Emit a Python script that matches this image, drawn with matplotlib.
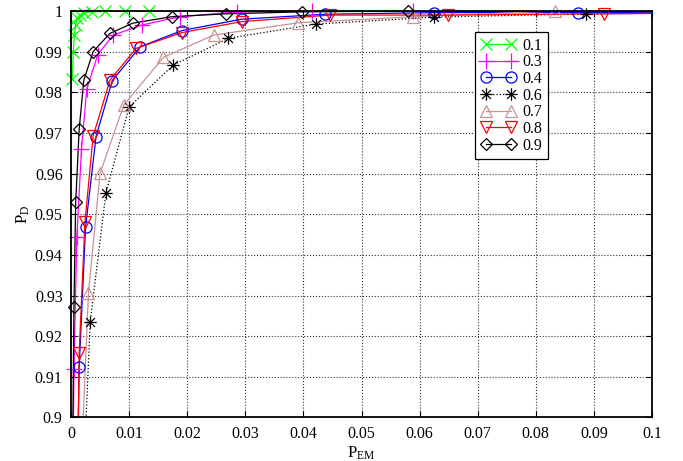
"""ROC-style curves P_D vs P_EM for several parameter values."""

import matplotlib

matplotlib.use("Agg")
import matplotlib.pyplot as plt
import numpy as np
from matplotlib.lines import Line2D
from matplotlib.path import Path

plt.rcParams["font.family"] = ["Liberation Serif", "DejaVu Serif"]
plt.rcParams["mathtext.fontset"] = "custom"
plt.rcParams["mathtext.rm"] = "Liberation Serif"
plt.rcParams["mathtext.it"] = "Liberation Serif:italic"

# values (points outside the axes only extend the lines)
x_01 = [0.0002, 0.0004, 0.00057, 0.0008, 0.0011, 0.0015, 0.0023, 0.0036, 0.0059, 0.0093, 0.0134, 0.12]
y_01 = [0.9833, 0.9900, 0.9941, 0.9966, 0.9982, 0.9990, 0.9996, 0.9998, 0.9999, 1.0, 1.0, 1.0]

x_03 = [0.0003, 0.0005, 0.0010, 0.0018, 0.0027, 0.0046, 0.0073, 0.0123, 0.0188, 0.0285, 0.0415, 0.0589, 0.12]
y_03 = [0.88, 0.9119, 0.9445, 0.9660, 0.9807, 0.9893, 0.9941, 0.9966, 0.9986, 0.9998, 1.0, 1.0, 1.0]

x_04 = [0.0010, 0.0014, 0.0025, 0.0043, 0.0071, 0.0119, 0.0191, 0.0294, 0.0437, 0.0625, 0.0873, 0.12]
y_04 = [0.88, 0.9123, 0.9468, 0.9691, 0.9829, 0.9912, 0.9952, 0.9980, 0.9992, 0.9996, 0.9996, 0.9998]

x_06 = [0.0020, 0.0033, 0.0060, 0.0100, 0.0176, 0.0271, 0.0422, 0.0625, 0.0886, 0.12]
y_06 = [0.88, 0.9236, 0.9552, 0.9764, 0.9867, 0.9933, 0.9968, 0.9985, 0.9993, 0.9996]

x_07 = [0.0015, 0.0030, 0.0050, 0.0091, 0.0159, 0.0246, 0.0391, 0.0589, 0.0833, 0.12]
y_07 = [0.88, 0.9306, 0.9601, 0.9769, 0.9886, 0.9941, 0.9971, 0.9986, 1.0, 0.9997]

x_08 = [0.0011, 0.0014, 0.0024, 0.0038, 0.0067, 0.0112, 0.0191, 0.0294, 0.0446, 0.0649, 0.0917, 0.12]
y_08 = [0.88, 0.9158, 0.9482, 0.9692, 0.9830, 0.9908, 0.9947, 0.9974, 0.9990, 0.9990, 0.9993, 0.9997]

x_09 = [0.0002, 0.0005, 0.0008, 0.0014, 0.0022, 0.0038, 0.0067, 0.0106, 0.0173, 0.0266, 0.0398, 0.0580, 0.12]
y_09 = [0.88, 0.9271, 0.9529, 0.9709, 0.9830, 0.9900, 0.9945, 0.9970, 0.9986, 0.9993, 0.9998, 1.0, 1.0]

labels = ["0.1", "0.3", "0.4", "0.6", "0.7", "0.8", "0.9"]

# 8-point asterisk like MATLAB's '*'
d = 0.7071
ASTER = Path(
    [(-1, 0), (1, 0), (0, -1), (0, 1), (-d, -d), (d, d), (-d, d), (d, -d)],
    [Path.MOVETO, Path.LINETO] * 4,
)

STYLES = [
    dict(color="#00ff00", ls="-", marker="x", ms=8),
    dict(color="#ff00ff", ls="-", marker="+", ms=11),
    dict(color="#0000ff", ls="-", marker="o", ms=8),
    dict(color="k", ls=":", marker=ASTER, ms=9),
    dict(color="#c89494", ls="-", marker="^", ms=8.5),
    dict(color="#ff0000", ls="-", marker="v", ms=8.5),
    dict(color="k", ls="-", marker="D", ms=6.5),
]


def main() -> None:
    series = [(x_01, y_01), (x_03, y_03), (x_04, y_04), (x_06, y_06),
              (x_07, y_07), (x_08, y_08), (x_09, y_09)]

    fig = plt.figure(figsize=(6.83, 4.61), dpi=100)
    ax = fig.add_axes([0.104, 0.0944, 0.8506, 0.8817])

    handles = []
    for (xs, ys), st, lab in zip(series, STYLES, labels):
        xs = np.asarray(xs)
        ys = np.asarray(ys)
        ax.plot(xs, ys, color=st["color"], ls=st["ls"], lw=0.9, zorder=3)
        inside = (xs <= 0.1) & (ys >= 0.9)
        ax.plot(xs[inside], ys[inside], ls="none", marker=st["marker"], ms=st["ms"],
                mec=st["color"], mfc="none", mew=0.9, clip_on=False, zorder=4)
        handles.append(Line2D([], [], color=st["color"], ls=st["ls"], lw=0.9,
                              marker=st["marker"], ms=st["ms"], mec=st["color"],
                              mfc="none", mew=0.9))

    ax.set_xlim(0, 0.1)
    ax.set_ylim(0.9, 1.0)
    ax.set_xticks(np.arange(0, 0.1001, 0.01))
    ax.set_xticklabels(["0"] + [f"{v:.2f}" for v in np.arange(0.01, 0.0951, 0.01)] + ["0.1"])
    ax.set_yticks(np.arange(0.9, 1.0001, 0.01))
    ax.set_yticklabels(["0.9"] + [f"{v:.2f}" for v in np.arange(0.91, 0.9951, 0.01)] + ["1"])
    ax.tick_params(direction="in", length=4, width=0.8, labelsize=11.5,
                   top=True, right=True, pad=6)
    ax.grid(True, ls=":", color="0.2", lw=0.8)
    for sp in ax.spines.values():
        sp.set_linewidth(1.3)
        sp.set_zorder(5)

    ax.set_xlabel(r"P$_{\mathrm{EM}}$", fontsize=12, labelpad=2)
    ax.set_ylabel(r"P$_{\mathrm{D}}$", fontsize=12, labelpad=2)

    leg = ax.legend(handles, labels, loc="upper right", bbox_to_anchor=(0.821, 0.948),
                    borderaxespad=0, fancybox=False, framealpha=1, edgecolor="k",
                    fontsize=11.5, numpoints=2, handlelength=2.2, labelspacing=0.04,
                    handletextpad=0.4, borderpad=0.35)
    leg.get_frame().set_linewidth(0.9)
    leg.set_zorder(6)

    fig.savefig("out.png", dpi=100)
    plt.close(fig)


if __name__ == "__main__":
    main()
